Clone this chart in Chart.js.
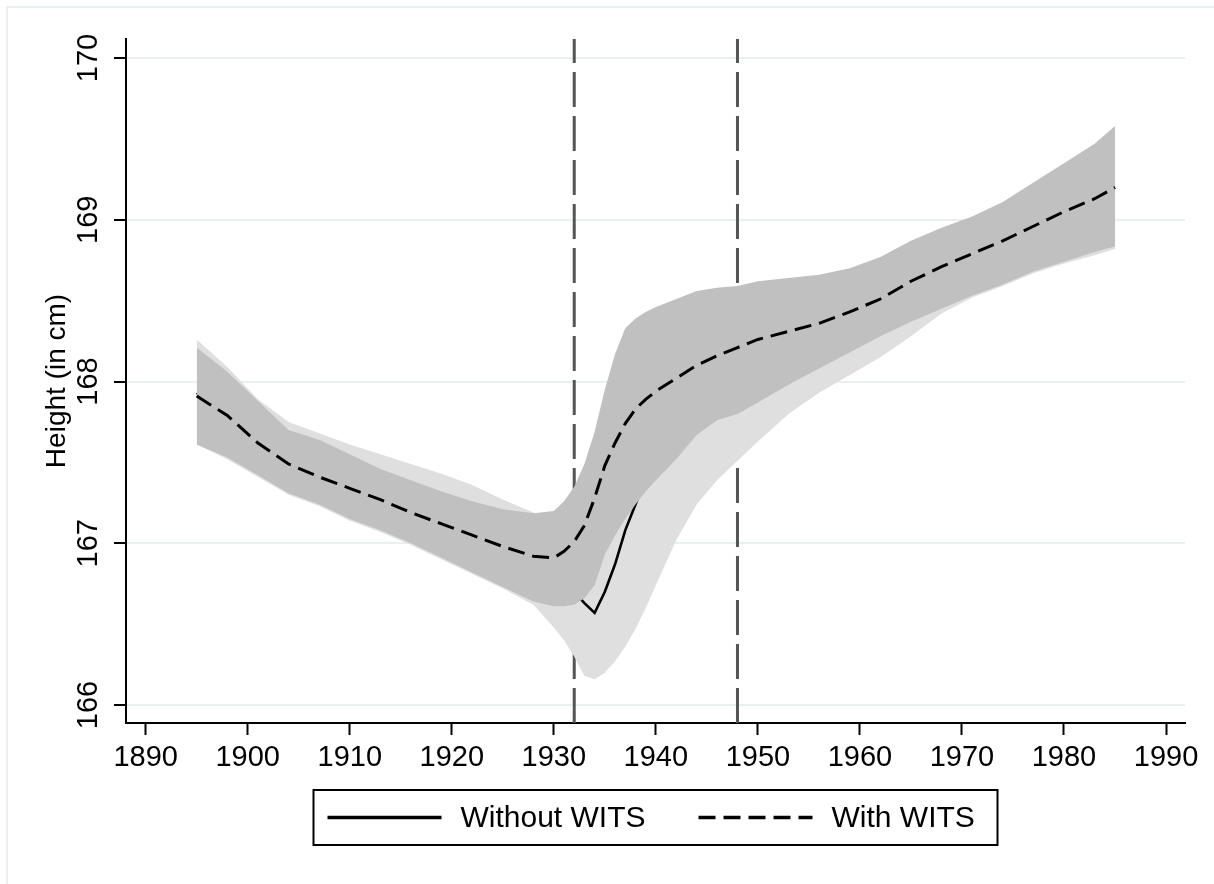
<!DOCTYPE html>
<html>
<head>
<meta charset="utf-8">
<script src="https://cdn.jsdelivr.net/npm/chart.js@4"></script>
<style>
  html, body { margin: 0; padding: 0; background: #fff; }
  #wrap { width: 1214px; height: 884px; position: relative; }
</style>
</head>
<body>
<div id="wrap"><canvas id="myChart"></canvas></div>
<script>
const years = [1895, 1898, 1901, 1904, 1907, 1910, 1913, 1916, 1919, 1922, 1925, 1928,
  1930, 1931, 1932, 1933, 1934, 1935, 1936, 1937, 1938, 1939, 1940, 1942, 1944, 1946,
  1948, 1950, 1953, 1956, 1959, 1962, 1965, 1968, 1971, 1974, 1977, 1980, 1983, 1985];

// with WITS: estimate and CI
const withWits = [167.91, 167.79, 167.62, 167.49, 167.41, 167.34, 167.27, 167.19, 167.12, 167.05, 166.98, 166.92,
  166.91, 166.95, 167.01, 167.11, 167.28, 167.48, 167.62, 167.74, 167.83, 167.89, 167.94, 168.02, 168.10, 168.16,
  168.21, 168.26, 168.31, 168.36, 168.43, 168.51, 168.62, 168.71, 168.79, 168.87, 168.96, 169.05, 169.13, 169.20];
const withUpper = [168.21, 168.06, 167.88, 167.70, 167.64, 167.55, 167.46, 167.39, 167.32, 167.26, 167.21, 167.185,
  167.20, 167.26, 167.35, 167.49, 167.69, 167.95, 168.17, 168.33, 168.39, 168.43, 168.46, 168.51, 168.56, 168.58,
  168.59, 168.62, 168.64, 168.66, 168.70, 168.77, 168.87, 168.95, 169.02, 169.11, 169.23, 169.35, 169.47, 169.58];
const withLower = [167.61, 167.53, 167.42, 167.31, 167.24, 167.15, 167.08, 167.00, 166.91, 166.82, 166.73, 166.64,
  166.61, 166.61, 166.62, 166.66, 166.74, 166.93, 167.05, 167.15, 167.24, 167.32, 167.39, 167.52, 167.67, 167.76,
  167.80, 167.87, 167.98, 168.08, 168.18, 168.28, 168.37, 168.45, 168.53, 168.60, 168.68, 168.74, 168.80, 168.835];

// without WITS: estimate and CI
const withoutWits = [167.93, 167.80, 167.65, 167.52, 167.45, 167.38, 167.31, 167.24, 167.17, 167.09, 167.00, 166.90,
  166.84, 166.78, 166.70, 166.63, 166.57, 166.70, 166.87, 167.08, 167.24, 167.40, 167.52, 167.69, 167.84, 167.96,
  168.06, 168.15, 168.26, 168.34, 168.42, 168.51, 168.62, 168.71, 168.79, 168.87, 168.96, 169.05, 169.13, 169.20];
const withoutUpper = [168.26, 168.09, 167.89, 167.75, 167.68, 167.61, 167.55, 167.49, 167.43, 167.36, 167.27, 167.19,
  167.10, 167.05, 167.00, 166.98, 167.05, 167.25, 167.50, 167.70, 167.85, 167.95, 168.03, 168.15, 168.25, 168.32,
  168.37, 168.42, 168.48, 168.54, 168.60, 168.70, 168.82, 168.92, 169.00, 169.09, 169.20, 169.32, 169.44, 169.54];
const withoutLower = [167.61, 167.52, 167.41, 167.30, 167.23, 167.14, 167.07, 166.99, 166.90, 166.81, 166.72, 166.62,
  166.48, 166.40, 166.30, 166.18, 166.16, 166.20, 166.27, 166.36, 166.47, 166.60, 166.74, 167.02, 167.24, 167.39,
  167.51, 167.63, 167.80, 167.93, 168.04, 168.15, 168.28, 168.42, 168.52, 168.59, 168.67, 168.73, 168.78, 168.82];

const xTicks = [1890, 1900, 1910, 1920, 1930, 1940, 1950, 1960, 1970, 1980, 1990];
const yTicks = [166, 167, 168, 169, 170];
const refYears = [1932, 1948];
const seriesLabels = ['Without WITS', 'With WITS'];

const FONT = "'Liberation Sans', Arial, sans-serif";
const pts = arr => years.map((x, i) => ({ x: x, y: arr[i] }));

const bandLine = { pointRadius: 0, borderWidth: 0, borderColor: 'rgba(0,0,0,0)' };

// draw order is reversed: last dataset at the bottom
const data = {
  datasets: [
    { label: seriesLabels[1], data: pts(withWits), borderColor: '#000', borderWidth: 3,
      borderDash: [17, 8], pointRadius: 0, fill: false, legendDash: [17, 8] },
    { label: 'with_hi', data: pts(withUpper), ...bandLine, backgroundColor: '#c0c0c0', fill: '+1' },
    { label: 'with_lo', data: pts(withLower), ...bandLine, fill: false },
    { label: seriesLabels[0], data: pts(withoutWits), borderColor: '#000', borderWidth: 2.6,
      pointRadius: 0, fill: false, legendDash: [] },
    { label: 'without_hi', data: pts(withoutUpper), ...bandLine, backgroundColor: '#dfdfdf', fill: '+1' },
    { label: 'without_lo', data: pts(withoutLower), ...bandLine, fill: false }
  ]
};

const framePlugin = {
  id: 'frame',
  beforeDraw(chart) {
    const ctx = chart.ctx;
    ctx.save();
    ctx.fillStyle = '#fff';
    ctx.fillRect(0, 0, chart.width, chart.height);
    ctx.strokeStyle = '#e3ebef';
    ctx.lineWidth = 1.5;
    ctx.beginPath();
    ctx.moveTo(7, chart.height);
    ctx.lineTo(7, 7);
    ctx.lineTo(chart.width, 7);
    ctx.stroke();
    ctx.restore();
  }
};

const refLinePlugin = {
  id: 'refLines',
  beforeDatasetsDraw(chart) {
    const { ctx, chartArea, scales } = chart;
    ctx.save();
    ctx.strokeStyle = '#555555';
    ctx.lineWidth = 3;
    ctx.setLineDash([35, 9]);
    refYears.forEach(yr => {
      const px = scales.x.getPixelForValue(yr);
      ctx.beginPath();
      ctx.moveTo(px, chartArea.bottom);
      ctx.lineTo(px, chartArea.top);
      ctx.stroke();
    });
    ctx.restore();
  }
};

const boxLegendPlugin = {
  id: 'boxLegend',
  afterDraw(chart) {
    const { ctx, chartArea } = chart;
    const items = chart.data.datasets.filter(d => d.legendDash);
    items.sort((a, b) => seriesLabels.indexOf(a.label) - seriesLabels.indexOf(b.label));
    const cx = (chartArea.left + chartArea.right) / 2;
    const boxW = 684, boxH = 55;
    const left = cx - boxW / 2;
    const top = chartArea.bottom + 67;
    const mid = top + boxH / 2;
    ctx.save();
    ctx.strokeStyle = '#000';
    ctx.lineWidth = 2;
    ctx.strokeRect(left, top, boxW, boxH);
    ctx.font = '30px ' + FONT;
    ctx.fillStyle = '#000';
    ctx.textBaseline = 'middle';
    const starts = [left + 14, left + 385];
    items.forEach((d, i) => {
      const x0 = starts[i];
      ctx.beginPath();
      ctx.setLineDash(d.legendDash);
      ctx.lineWidth = 3.5;
      ctx.moveTo(x0, mid);
      ctx.lineTo(x0 + 114, mid);
      ctx.stroke();
      ctx.setLineDash([]);
      ctx.fillText(d.label, x0 + 133, mid + 1);
    });
    ctx.restore();
  }
};

const config = {
  type: 'line',
  data: data,
  options: {
    responsive: true,
    maintainAspectRatio: false,
    devicePixelRatio: 1,
    animation: false,
    layout: { padding: { top: 39, left: 10, right: 29, bottom: 111 } },
    elements: { line: { tension: 0 } },
    scales: {
      x: {
        type: 'linear',
        min: 1888.07,
        max: 1991.86,
        afterBuildTicks: s => { s.ticks = xTicks.map(v => ({ value: v })); },
        afterFit: s => { s.height = 50; },
        grid: { drawOnChartArea: false, drawTicks: true, tickLength: 12, tickColor: '#000', tickWidth: 2 },
        border: { display: true, color: '#000', width: 2 },
        ticks: {
          color: '#000', padding: 6, maxRotation: 0,
          font: { family: FONT, size: 29 },
          callback: v => String(v)
        }
      },
      y: {
        type: 'linear',
        min: 165.889,
        max: 170.1175,
        afterBuildTicks: s => { s.ticks = yTicks.map(v => ({ value: v })); },
        afterFit: s => { s.width = 116; },
        grid: { color: '#eaf0f2', lineWidth: 2, drawTicks: true, tickLength: 12, tickColor: '#000', tickWidth: 2 },
        border: { display: true, color: '#000', width: 2 },
        ticks: {
          color: '#000', padding: 1, minRotation: 90, maxRotation: 90, crossAlign: 'center',
          font: { family: FONT, size: 29 },
          callback: v => String(v)
        },
        title: {
          display: true, text: 'Height (in cm)', color: '#000',
          font: { family: FONT, size: 28, lineHeight: 1 },
          padding: { top: 33, bottom: 0 }
        }
      }
    },
    plugins: {
      legend: { display: false },
      tooltip: { enabled: false }
    }
  },
  plugins: [framePlugin, refLinePlugin, boxLegendPlugin]
};

new Chart(document.getElementById('myChart').getContext('2d'), config);
</script>
</body>
</html>
